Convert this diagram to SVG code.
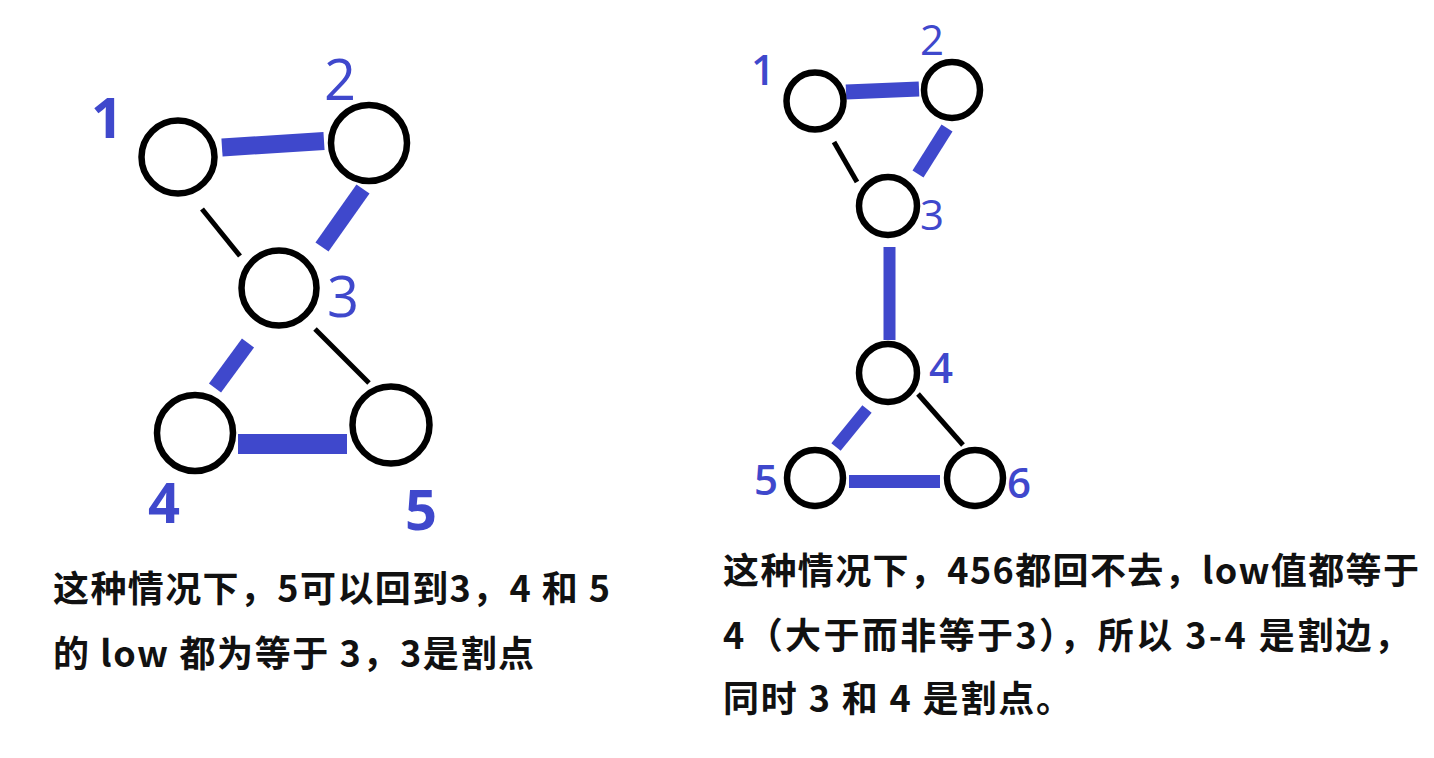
<svg xmlns="http://www.w3.org/2000/svg" width="1434" height="758" viewBox="0 0 1434 758">
<style>
.n{fill:none;stroke:#000;stroke-width:6.5}
.b{stroke:#3f48cc;fill:none}
.k{stroke:#000;stroke-width:5;fill:none}
.lbl{font-family:"Open Sans","Noto Sans",sans-serif;fill:#3f48cc;text-anchor:middle}
.big{font-size:56px}
.sm{font-size:42px}
.cap{font-family:"Noto Sans CJK SC","Noto Sans",sans-serif;font-size:36px;font-weight:bold;fill:#111}
</style>
<rect width="1434" height="758" fill="#fff"/>
<g id="connectors">
<line class="b" x1="222" y1="147.5" x2="324" y2="141" stroke-width="18"/>
<line class="b" x1="363" y1="189" x2="322" y2="247" stroke-width="16"/>
<line class="k" x1="202" y1="209" x2="240" y2="256"/>
<line class="b" x1="248" y1="343" x2="215" y2="388" stroke-width="15"/>
<line class="k" x1="315" y1="329" x2="369" y2="383"/>
<line class="b" x1="238" y1="444" x2="347" y2="444" stroke-width="20"/>
<line class="b" x1="846" y1="92" x2="919" y2="89" stroke-width="15"/>
<line class="b" x1="947" y1="128" x2="918" y2="174" stroke-width="13"/>
<line class="k" x1="834" y1="142" x2="857" y2="182"/>
<line class="b" x1="889.5" y1="247" x2="889.5" y2="340" stroke-width="12"/>
<line class="b" x1="867" y1="409" x2="836" y2="447" stroke-width="12"/>
<line class="k" x1="918" y1="394" x2="963" y2="445"/>
<line class="b" x1="849" y1="481.5" x2="940" y2="481.5" stroke-width="13"/>
</g>
<g id="L1"><circle class="n" cx="178" cy="157" r="36.5"/><text class="lbl big" x="107" y="138" font-weight="bold">1</text></g>
<g id="L2"><circle class="n" cx="369" cy="143" r="38"/><text class="lbl big" x="340" y="100">2</text></g>
<g id="L3"><circle class="n" cx="279" cy="288" r="37.5"/><text class="lbl big" x="343" y="317">3</text></g>
<g id="L4"><circle class="n" cx="195" cy="433" r="38"/><text class="lbl big" x="164" y="523" font-weight="bold">4</text></g>
<g id="L5"><circle class="n" cx="391" cy="425" r="38.5"/><text class="lbl big" x="421" y="530" font-weight="bold">5</text></g>
<g id="R1"><circle class="n" cx="815" cy="101" r="28.5"/><text class="lbl sm" x="763" y="85" font-weight="600">1</text></g>
<g id="R2"><circle class="n" cx="952" cy="90" r="28"/><text class="lbl sm" x="932" y="55">2</text></g>
<g id="R3"><circle class="n" cx="888" cy="206" r="29"/><text class="lbl sm" x="932" y="230">3</text></g>
<g id="R4"><circle class="n" cx="888" cy="373" r="29"/><text class="lbl sm" x="941" y="383" font-weight="600">4</text></g>
<g id="R5"><circle class="n" cx="815" cy="478" r="28"/><text class="lbl sm" x="766" y="495" font-weight="600">5</text></g>
<g id="R6"><circle class="n" cx="975" cy="478" r="28"/><text class="lbl sm" x="1019" y="498" font-weight="600">6</text></g>
<g id="captions">
<text class="cap" x="53" y="602" textLength="557" lengthAdjust="spacing">这种情况下，5可以回到3，4 和 5</text>
<text class="cap" x="53" y="667" textLength="481" lengthAdjust="spacing">的 low 都为等于 3，3是割点</text>
<text class="cap" x="723" y="584" textLength="696" lengthAdjust="spacing">这种情况下，456都回不去，low值都等于</text>
<text class="cap" x="723" y="649" textLength="687" lengthAdjust="spacing">4（大于而非等于3），所以 3-4 是割边，</text>
<text class="cap" x="723" y="712" textLength="349" lengthAdjust="spacing">同时 3 和 4 是割点。</text>
</g>
</svg>
